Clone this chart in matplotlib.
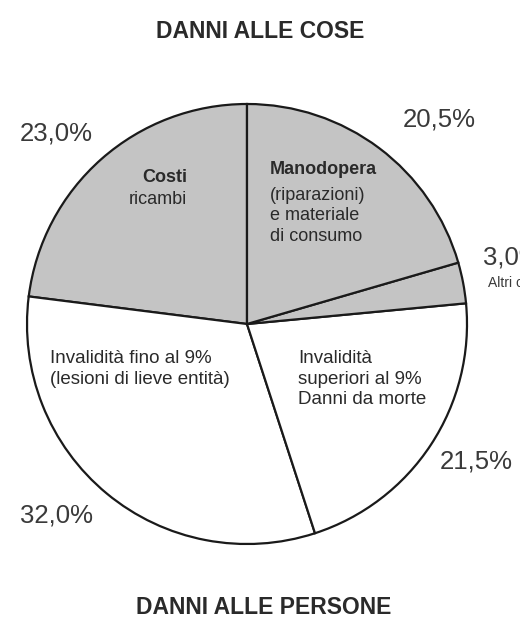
import matplotlib
matplotlib.use('Agg')
import matplotlib.pyplot as plt

plt.rcParams['font.family'] = ['Liberation Sans', 'DejaVu Sans']

# slices, counterclockwise from the top
labels = ['Costi ricambi', 'Invalidità fino al 9%', 'Invalidità superiori al 9%',
          'Altri', 'Manodopera']
values = [23.0, 32.0, 21.5, 3.0, 20.5]
pct_text = ['23,0%', '32,0%', '21,5%', '3,0%', '20,5%']
colors = ['#c4c4c4', '#ffffff', '#ffffff', '#c4c4c4', '#c4c4c4']

W, H = 520, 634
fig = plt.figure(figsize=(W / 100, H / 100), dpi=100)
ax = fig.add_axes([0, 0, 1, 1])

cx, cy, r = 247, H - 324, 220
ax.pie(values, colors=colors, startangle=90, counterclock=True,
       center=(cx, cy), radius=r,
       wedgeprops=dict(edgecolor='#1a1a1a', linewidth=1.6))

ax.set_xlim(0, W)
ax.set_ylim(0, H)
ax.set_aspect('equal')
ax.axis('off')

def img_text(x, y, s, **kw):
    ax.text(x, H - y, s, **kw)

tc = '#2a2a2a'
img_text(260, 32, 'DANNI ALLE COSE', fontsize=16.5, fontweight='bold',
         ha='center', va='center', color=tc)
img_text(264, 608, 'DANNI ALLE PERSONE', fontsize=16.5, fontweight='bold',
         ha='center', va='center', color=tc)

# percentages
pct_pos = [(20, 133), (20, 515), (440, 462), (483, 257), (403, 120)]
for (x, y), s in zip(pct_pos, pct_text):
    img_text(x, y, s, fontsize=18.5, ha='left', va='center', color='#3a3a3a')
img_text(488, 283, 'Altri costi', fontsize=10, ha='left', va='center',
         color='#3a3a3a')

# labels inside the slices
img_text(187, 177, 'Costi', fontsize=13, fontweight='bold',
         ha='right', va='center', color=tc)
img_text(187, 200, 'ricambi', fontsize=13,
         ha='right', va='center', color=tc)

img_text(270, 170, 'Manodopera', fontsize=13, fontweight='bold',
         ha='left', va='center', color=tc)
img_text(270, 216, '(riparazioni)\ne materiale\ndi consumo', fontsize=13,
         ha='left', va='center', color=tc, linespacing=1.3)

img_text(50, 369, 'Invalidità fino al 9%\n(lesioni di lieve entità)', fontsize=13.5,
         ha='left', va='center', color=tc, linespacing=1.25)
img_text(298, 379, 'Invalidità\nsuperiori al 9%\nDanni da morte', fontsize=13.5,
         ha='left', va='center', color=tc, linespacing=1.25)

fig.savefig('out.png', dpi=100, facecolor='white')
